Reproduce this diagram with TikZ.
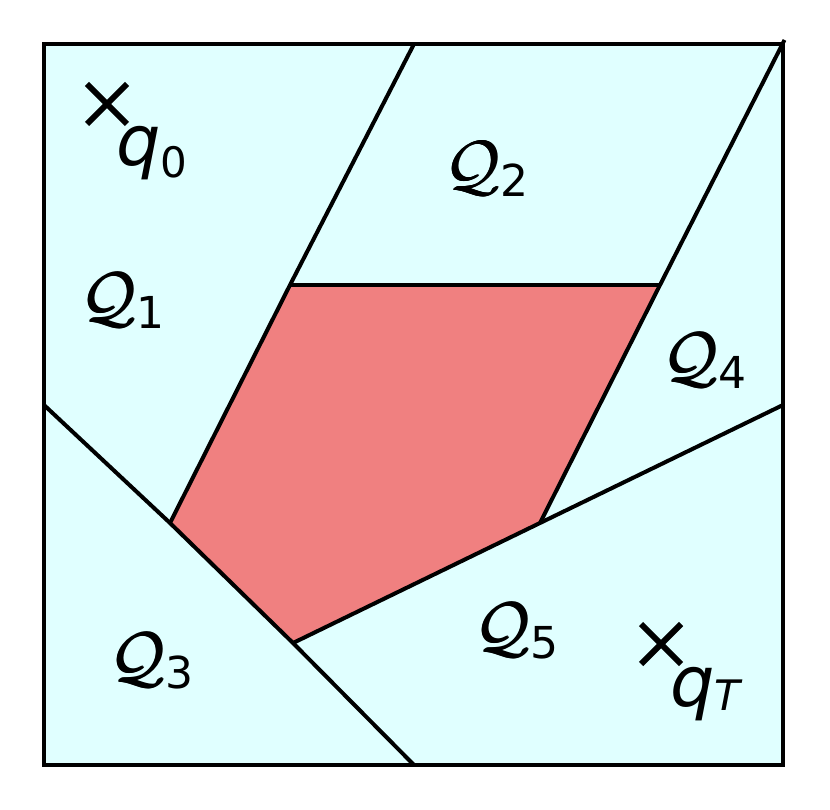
\RequirePackage{fix-cm}
\documentclass[tikz,border=0pt]{standalone}
\usepackage{fontspec}
\newfontfamily\dejavu{DejaVu Sans}
\definecolor{regfill}{HTML}{E0FFFF}
\definecolor{polyfill}{HTML}{F08080}
\newcommand{\heavyQ}{\rlap{$\mathcal{Q}$}\raisebox{0.7pt}{\rlap{$\mathcal{Q}$}}\kern1pt$\mathcal{Q}$}
\newcommand{\regq}[1]{\fontsize{68}{80}\selectfont\heavyQ\raisebox{-8pt}{\fontsize{44}{50}\selectfont\dejavu #1}}
\begin{document}
\begin{tikzpicture}[x=1pt,y=-1pt,
  edge/.style={line width=4pt, line join=miter},
  qlabel/.style={inner sep=0pt, anchor=base west},
  ptlabel/.style={inner sep=0pt, anchor=base west},
  crossmark/.style={line width=6pt}]
\useasboundingbox (0,0) rectangle (830,810);
% corners
\coordinate (bl) at (44,765);
\coordinate (br) at (783,765);
\coordinate (tr) at (783,44);
\coordinate (tl) at (44,44);
% polygon vertices
\coordinate (p1) at (290,285);
\coordinate (p2) at (660,285);
\coordinate (p3) at (540,523);
\coordinate (p4) at (293,643);
\coordinate (p5) at (170,523);
% border endpoints
\coordinate (a) at (414,44);
\coordinate (b) at (44,405);
\coordinate (c) at (414,765);
\coordinate (d) at (783,405);
\coordinate (e) at (784.5,40);
% fills
\fill[regfill] (tl) rectangle (br);
\fill[polyfill] (p1) -- (p2) -- (p3) -- (p4) -- (p5) -- cycle;
% lines
\draw[edge] (a) -- (p1) -- (p5);
\draw[edge] (e) -- (p2) -- (p3);
\draw[edge] (p1) -- (p2);
\draw[edge] (b) -- (p5) -- (p4) -- (c);
\draw[edge] (d) -- (p3) -- (p4);
\draw[edge] (tl) rectangle (br);
% labels
\node[qlabel] (Q1) at (80,320) {\regq{1}};
\node[qlabel] (Q2) at (444,189) {\regq{2}};
\node[qlabel] (Q3) at (109,680) {\regq{3}};
\node[qlabel] (Q4) at (662,380) {\regq{4}};
\node[qlabel] (Q5) at (474,650) {\regq{5}};
% points
\coordinate (q0) at (107,104);
\coordinate (qT) at (661,644);
\draw[crossmark] ([shift={(-20,-20)}]q0) -- ([shift={(20,20)}]q0);
\draw[crossmark] ([shift={(-20,20)}]q0) -- ([shift={(20,-20)}]q0);
\draw[crossmark] ([shift={(-20,-20)}]qT) -- ([shift={(20,20)}]qT);
\draw[crossmark] ([shift={(-20,20)}]qT) -- ([shift={(20,-20)}]qT);
\node[ptlabel] (lq0) at (116,166) {\fontsize{70}{80}\selectfont\dejavu\itshape q\raisebox{-12pt}{\fontsize{42}{48}\selectfont\upshape 0}};
\node[ptlabel] (lqT) at (670,706) {\fontsize{70}{80}\selectfont\dejavu\itshape q\raisebox{-4pt}{\fontsize{42}{48}\selectfont T}};
\end{tikzpicture}
\end{document}
